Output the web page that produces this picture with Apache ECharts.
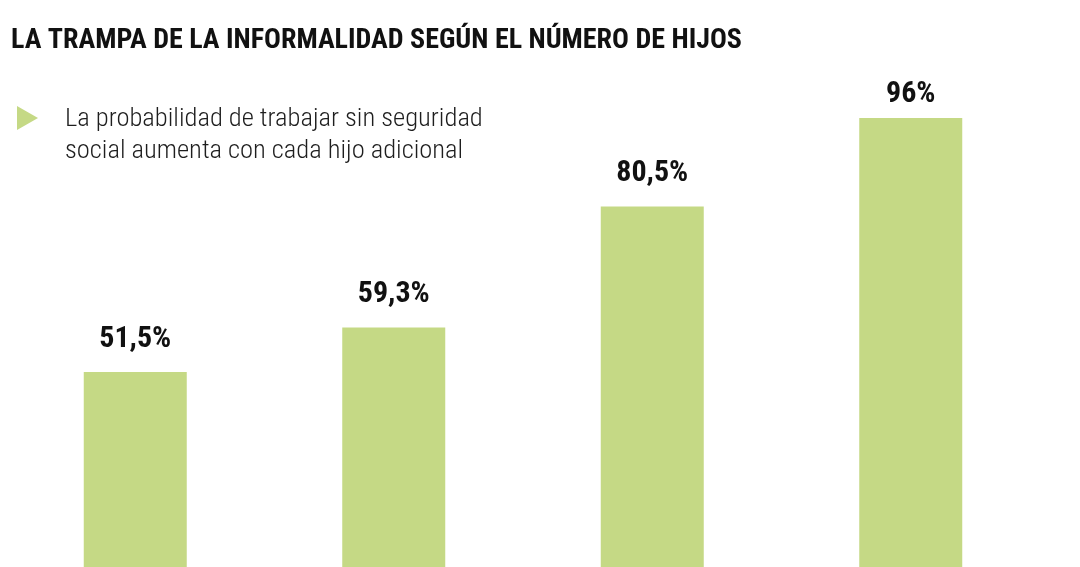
<!DOCTYPE html>
<html>
<head>
<meta charset="utf-8">
<script src="https://cdn.jsdelivr.net/npm/echarts@6/dist/echarts.min.js"></script>
<style>
  html, body { margin: 0; padding: 0; background: #fff; }
  #chart { width: 1080px; height: 567px; }
</style>
</head>
<body>
<div id="chart"></div>
<script>
// datos
var categorias = ['Sin hijos', '1 hijo', '2 hijos', '3 o más hijos'];
var probabilidad = [51.5, 59.3, 80.5, 96];

var titulo = 'LA TRAMPA DE LA INFORMALIDAD SEGÚN EL NÚMERO DE HIJOS';
var subtitulo = 'La probabilidad de trabajar sin seguridad\nsocial aumenta con cada hijo adicional';

var fuente = "'Roboto Condensed', 'DejaVu Sans Condensed', sans-serif";

var chart = echarts.init(document.getElementById('chart'));

// la etiqueta de la última barra va más pegada (falta espacio arriba)
var datos = probabilidad.map(function(v, i) {
	var d = { value : v };
	if (i === probabilidad.length - 1) {
		d.label = { distance : 9 };
	}
	return d;
});

var option = {
	animation : false,
	title : [ {
		text : titulo,
		left : 6,
		top : 22,
		textStyle : {
			fontFamily : fuente,
			fontWeight : 'bold',
			fontSize : 28,
			color : '#111'
		}
	}, {
		text : subtitulo,
		left : 60,
		top : 98,
		textStyle : {
			fontFamily : fuente,
			fontWeight : 300,
			fontSize : 26.5,
			lineHeight : 32,
			color : '#1e1e1e'
		}
	} ],
	graphic : [ {
		type : 'polygon',
		shape : { points : [ [ 17, 106 ], [ 38, 118 ], [ 17, 130 ] ] },
		style : { fill : '#c5d985' }
	} ],
	grid : {
		left : 6,
		right : 40,
		top : 118,
		bottom : 0
	},
	xAxis : {
		type : 'category',
		data : categorias,
		axisLine : { show : false },
		axisTick : { show : false },
		axisLabel : { show : false }
	},
	yAxis : {
		type : 'value',
		// el gráfico original está recortado por abajo
		min : 17.34,
		max : 96,
		show : false,
		splitLine : { show : false }
	},
	series : [ {
		type : 'bar',
		data : datos,
		barWidth : 103,
		itemStyle : { color : '#c5d985' },
		label : {
			show : true,
			position : 'top',
			distance : 18,
			fontFamily : fuente,
			fontWeight : 'bold',
			fontSize : 30,
			color : '#111',
			formatter : function(p) {
				return String(p.value).replace('.', ',') + '%';
			}
		}
	} ]
};

chart.setOption(option);
</script>
</body>
</html>
